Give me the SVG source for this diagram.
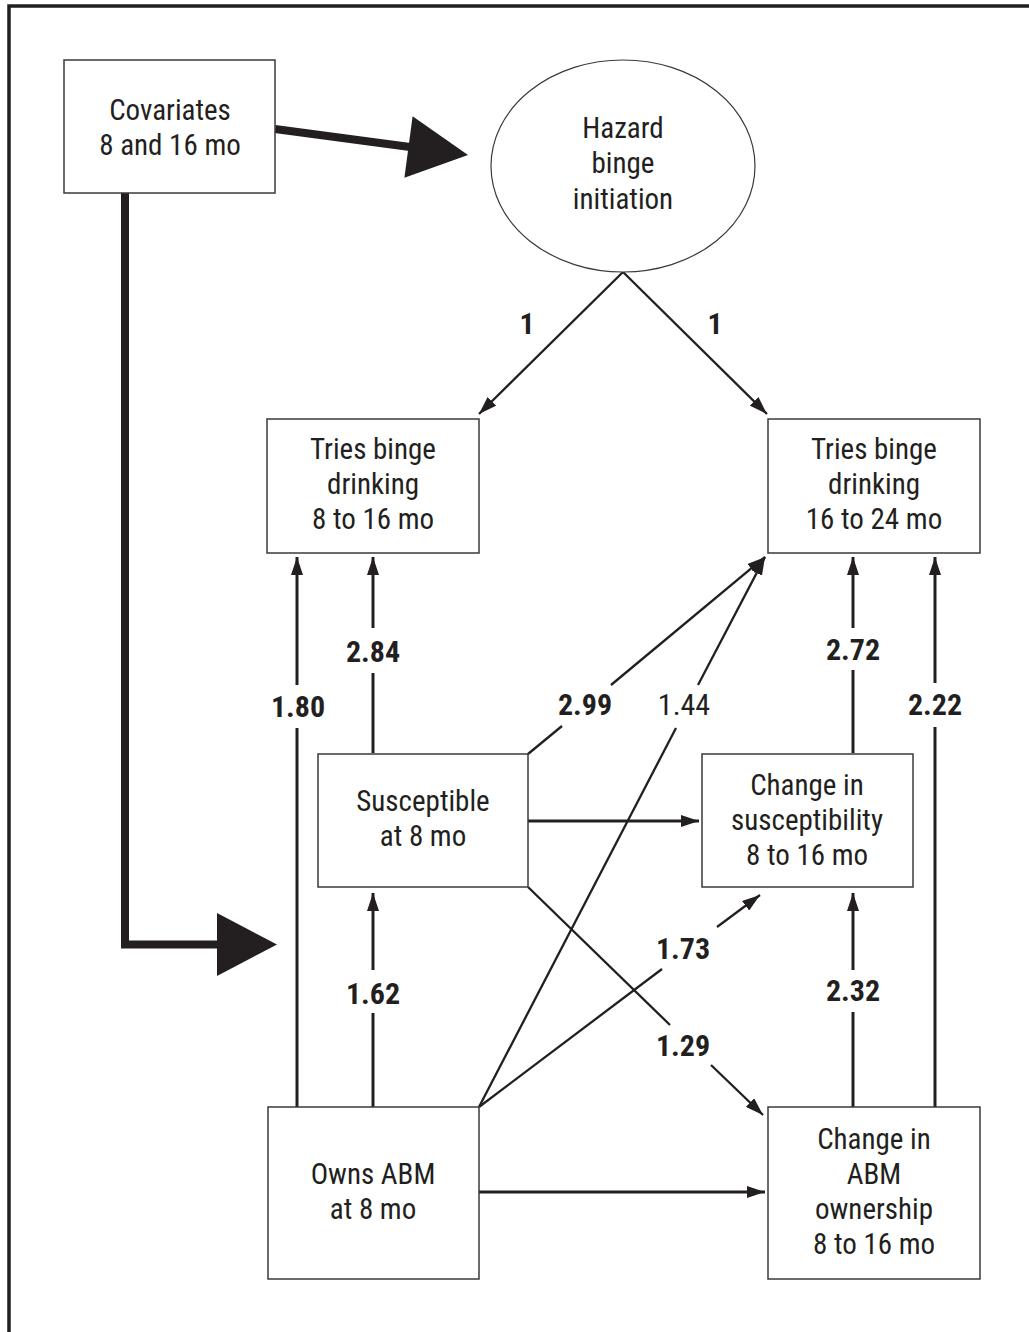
<svg xmlns="http://www.w3.org/2000/svg" width="1029" height="1332" viewBox="0 0 1029 1332">
<defs>
<style>
.box{fill:#fff;stroke:#3a3a3a;stroke-width:1.5}
.ell{fill:#fff;stroke:#3a3a3a;stroke-width:1.2}
.t{font-family:'Liberation Sans Narrow','Roboto Condensed','DejaVu Sans Condensed','Liberation Sans',sans-serif;font-size:29px;fill:#231f20;text-anchor:middle}
.lb{font-family:'Liberation Sans Narrow','Roboto Condensed','DejaVu Sans Condensed','Liberation Sans',sans-serif;font-size:30px;font-weight:bold;fill:#231f20;text-anchor:middle}
.lr{font-family:'Liberation Sans Narrow','Roboto Condensed','DejaVu Sans Condensed','Liberation Sans',sans-serif;font-size:30px;fill:#231f20;text-anchor:middle}
.c{fill:none;stroke:#231f20;stroke-width:3}
.d{fill:none;stroke:#231f20;stroke-width:2.3}
.thick{fill:none;stroke:#231f20;stroke-width:8}
.head{fill:#231f20}
</style>
<marker id="ah" viewBox="0 0 18 12" refX="18" refY="6" markerWidth="18" markerHeight="12" markerUnits="userSpaceOnUse" orient="auto">
<path d="M0,0 L18,6 L0,12 z" fill="#231f20"/>
</marker>
</defs>
<rect width="1029" height="1332" fill="#fff"/>
<rect x="9" y="6" width="1100" height="1400" fill="none" stroke="#231f20" stroke-width="3.5"/>

<g id="connectors">
<path class="thick" d="M275,129 L410,147"/>
<polygon class="head" points="404.4,177.7 468,155 412.6,116.3"/>
<path class="thick" d="M125,193 V944.5 H220"/>
<polygon class="head" points="217,913 277,944.5 217,976"/>

<line class="d" x1="623" y1="272" x2="479" y2="414" marker-end="url(#ah)"/>
<line class="d" x1="623" y1="272" x2="767" y2="414" marker-end="url(#ah)"/>

<line class="c" x1="297" y1="1107" x2="297" y2="728"/>
<line class="c" x1="297" y1="685" x2="297" y2="557" marker-end="url(#ah)"/>

<line class="c" x1="373" y1="753" x2="373" y2="673"/>
<line class="c" x1="373" y1="628" x2="373" y2="557" marker-end="url(#ah)"/>

<line class="d" x1="528" y1="754" x2="562" y2="726"/>
<line class="d" x1="611" y1="685" x2="765" y2="557" marker-end="url(#ah)"/>

<line class="d" x1="479" y1="1107" x2="676" y2="728"/>
<line class="d" x1="698" y1="685" x2="765" y2="557" marker-end="url(#ah)"/>

<line class="c" x1="853" y1="753" x2="853" y2="670"/>
<line class="c" x1="853" y1="628" x2="853" y2="557" marker-end="url(#ah)"/>

<line class="c" x1="935" y1="1107" x2="935" y2="727"/>
<line class="c" x1="935" y1="683" x2="935" y2="557" marker-end="url(#ah)"/>

<line class="c" x1="528" y1="821" x2="699" y2="821" marker-end="url(#ah)"/>

<line class="d" x1="528" y1="887" x2="670" y2="1025"/>
<line class="d" x1="711" y1="1065" x2="763" y2="1115" marker-end="url(#ah)"/>

<line class="d" x1="479" y1="1107" x2="662" y2="969"/>
<line class="d" x1="717" y1="927" x2="760" y2="895" marker-end="url(#ah)"/>

<line class="c" x1="373" y1="1107" x2="373" y2="1013"/>
<line class="c" x1="373" y1="970" x2="373" y2="893" marker-end="url(#ah)"/>

<line class="c" x1="853" y1="1107" x2="853" y2="1012"/>
<line class="c" x1="853" y1="970" x2="853" y2="893" marker-end="url(#ah)"/>

<line class="c" x1="479" y1="1192" x2="765" y2="1192" marker-end="url(#ah)"/>

<text class="lb" x="527" y="334">1</text>
<text class="lb" x="715" y="334">1</text>
<text class="lb" x="373" y="662">2.84</text>
<text class="lb" x="298" y="717">1.80</text>
<text class="lb" x="585" y="715">2.99</text>
<text class="lr" x="684" y="715">1.44</text>
<text class="lb" x="853" y="660">2.72</text>
<text class="lb" x="935" y="715">2.22</text>
<text class="lb" x="373" y="1004">1.62</text>
<text class="lb" x="683" y="959">1.73</text>
<text class="lb" x="853" y="1001">2.32</text>
<text class="lb" x="683" y="1056">1.29</text>
</g>

<g id="covariates">
<rect class="box" x="64" y="60" width="211" height="133"/>
<text class="t" x="170" y="120">Covariates</text>
<text class="t" x="170" y="155">8 and 16 mo</text>
</g>

<g id="hazard">
<ellipse class="ell" cx="623" cy="166" rx="132" ry="106"/>
<text class="t" x="623" y="138">Hazard</text>
<text class="t" x="623" y="173">binge</text>
<text class="t" x="623" y="209">initiation</text>
</g>

<g id="tries-8-16">
<rect class="box" x="267" y="419" width="212" height="134"/>
<text class="t" x="373" y="459">Tries binge</text>
<text class="t" x="373" y="494">drinking</text>
<text class="t" x="373" y="529">8 to 16 mo</text>
</g>

<g id="tries-16-24">
<rect class="box" x="768" y="419" width="212" height="134"/>
<text class="t" x="874" y="459">Tries binge</text>
<text class="t" x="874" y="494">drinking</text>
<text class="t" x="874" y="529">16 to 24 mo</text>
</g>

<g id="susceptible">
<rect class="box" x="318" y="754" width="210" height="133"/>
<text class="t" x="423" y="811">Susceptible</text>
<text class="t" x="423" y="846">at 8 mo</text>
</g>

<g id="change-susceptibility">
<rect class="box" x="702" y="754" width="211" height="133"/>
<text class="t" x="807" y="795">Change in</text>
<text class="t" x="807" y="830">susceptibility</text>
<text class="t" x="807" y="865">8 to 16 mo</text>
</g>

<g id="owns-abm">
<rect class="box" x="268" y="1107" width="211" height="172"/>
<text class="t" x="373" y="1184">Owns ABM</text>
<text class="t" x="373" y="1219">at 8 mo</text>
</g>

<g id="change-abm">
<rect class="box" x="768" y="1107" width="212" height="172"/>
<text class="t" x="874" y="1149">Change in</text>
<text class="t" x="874" y="1184">ABM</text>
<text class="t" x="874" y="1219">ownership</text>
<text class="t" x="874" y="1254">8 to 16 mo</text>
</g>
</svg>
